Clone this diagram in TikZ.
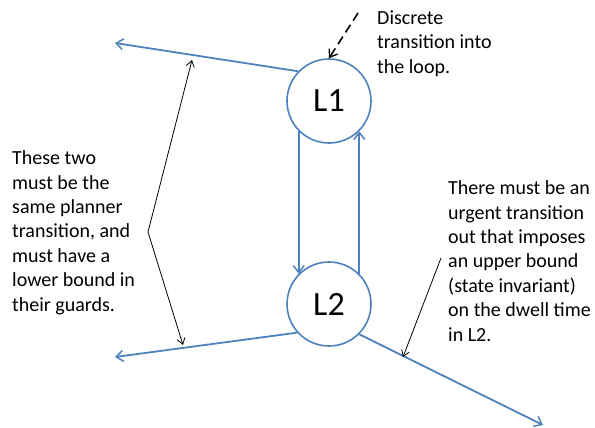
\documentclass[tikz,border=0pt]{standalone}
\usepackage{fontspec}
\setmainfont{Carlito}
\usetikzlibrary{arrows.meta}
\definecolor{lineblue}{HTML}{4F81BD}
\tikzset{ptrtip/.tip={Straight Barb[length=6bp,width=8bp]}}
\begin{document}
\begin{tikzpicture}[x=1bp,y=-1bp,
  state/.style={circle,draw=lineblue,line width=1.6bp,minimum size=84bp,inner sep=0pt,font=\fontsize{34bp}{40bp}\selectfont},
  trans/.style={draw=lineblue,line width=1.8bp,-{Straight Barb[length=7bp,width=11bp,line width=1.5bp]}},
  note/.style={anchor=base west,align=left,inner sep=0pt,font=\fontsize{20bp}{24.4bp}\selectfont},
  pointer/.style={draw=black,line width=0.8bp}]
\useasboundingbox (0,0) rectangle (595,427);
\node[state] (L1) at (329,101) {L1};
\node[state] (L2) at (329,304) {L2};
\coordinate (outA) at (115,43);
\coordinate (outB) at (115,357);
\coordinate (outC) at (543,425);
\coordinate (dstart) at (358,13);
\coordinate (bend) at (148,232);
\coordinate (pA) at (192,60);
\coordinate (pB) at (183,345);
\coordinate (qS) at (441,258);
\coordinate (qT) at (403,357);
% transitions between states
\draw[trans] (L1.225) -- (L2.135);
\draw[trans] (L2.45) -- (L1.315);
% outgoing transitions
\draw[trans] (L1.136) -- (outA);
\draw[trans] (L2.222) -- (outB);
\draw[trans] (L2.-45) -- (outC);
% incoming dashed
\draw[draw=black,line width=1.6bp,dash pattern=on 9bp off 5bp,-{Straight Barb[length=7bp,width=10bp,line width=1.4bp]}] (dstart) -- (L1.north);
% pointers
\draw[pointer,ptrtip-ptrtip] (pA) -- (bend) -- (pB);
\draw[pointer,-ptrtip] (qS) -- (qT);
% notes (anchor = baseline of last line)
\node[note] (n1) at (377,73) {Discrete\\transition into\\the loop.};
\node[note] (n2) at (12,311) {These two\\must be the\\same planner\\transition, and\\must have a\\lower bound in\\their guards.};
\node[note] (n3) at (448,341) {There must be an\\urgent transition\\out that imposes\\an upper bound\\(state invariant)\\on the dwell time\\in L2.};
\end{tikzpicture}
\end{document}
